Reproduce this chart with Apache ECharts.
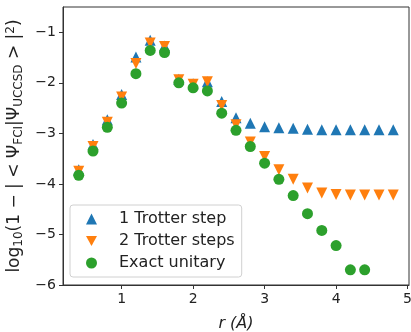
<!DOCTYPE html>
<html>
<head>
<meta charset="utf-8">
<script src="https://cdn.jsdelivr.net/npm/echarts@6/dist/echarts.min.js"></script>
<style>
  html, body { margin: 0; padding: 0; background: #fff; }
  #chart { width: 411px; height: 332px; }
</style>
</head>
<body>
<div id="chart"></div>
<script>
const rValues = [0.4, 0.6, 0.8, 1.0, 1.2, 1.4, 1.6, 1.8, 2.0, 2.2, 2.4, 2.6, 2.8, 3.0, 3.2, 3.4, 3.6, 3.8, 4.0, 4.2, 4.4, 4.6, 4.8];

const oneStep = [-3.72, -3.22, -2.73, -2.23, -1.49, -1.16, -1.27, -1.93, -2.02, -1.98, -2.37, -2.69, -2.80, -2.87, -2.89, -2.90, -2.92, -2.93, -2.93, -2.93, -2.93, -2.93, -2.93];
const twoSteps = [-3.75, -3.26, -2.78, -2.28, -1.62, -1.21, -1.28, -1.94, -2.03, -1.98, -2.45, -2.83, -3.17, -3.46, -3.72, -3.91, -4.08, -4.18, -4.21, -4.22, -4.22, -4.22, -4.22];
const exactR = [0.4, 0.6, 0.8, 1.0, 1.2, 1.4, 1.6, 1.8, 2.0, 2.2, 2.4, 2.6, 2.8, 3.0, 3.2, 3.4, 3.6, 3.8, 4.0, 4.2, 4.4];
const exact = [-3.83, -3.35, -2.88, -2.40, -1.82, -1.36, -1.40, -2.00, -2.10, -2.16, -2.60, -2.94, -3.26, -3.59, -3.91, -4.23, -4.59, -4.92, -5.22, -5.70, -5.70];

const xTicks = [1, 2, 3, 4, 5];
const yTicks = [-6, -5, -4, -3, -2, -1];

const seriesNames = ['1 Trotter step', '2 Trotter steps', 'Exact unitary'];

function pairs(xs, ys) {
  return xs.map((x, i) => [x, ys[i]]);
}

const font = 'DejaVu Sans';
const downTriangle = 'path://M0,0 L10,0 L5,9 Z';

const chart = echarts.init(document.getElementById('chart'));
chart.setOption({
  animation: false,
  textStyle: { fontFamily: font },
  grid: {
    left: 63,
    right: 2,
    top: 7,
    bottom: 47,
    outerBoundsMode: 'none',
    show: true,
    borderColor: '#333',
    borderWidth: 1,
  },
  legend: {
    orient: 'vertical',
    left: 70,
    top: 205,
    padding: [6, 7, 6, 16],
    itemWidth: 11,
    itemHeight: 11,
    itemGap: 6,
    borderColor: '#d0d0d0',
    borderWidth: 1,
    borderRadius: 3,
    backgroundColor: 'rgba(255,255,255,0.8)',
    textStyle: { fontFamily: font, fontSize: 16, color: '#222', lineHeight: 16, padding: [0, 0, 0, 17] },
    data: [
      { name: seriesNames[0], icon: 'triangle' },
      { name: seriesNames[1], icon: downTriangle },
      { name: seriesNames[2], icon: 'circle' },
    ],
  },
  xAxis: {
    type: 'value',
    min: 0.18,
    max: 5.02,
    name: 'r (Å)',
    nameLocation: 'middle',
    nameGap: 31,
    nameTextStyle: { fontFamily: font, fontSize: 16, fontStyle: 'italic', color: '#222' },
    axisLine: { lineStyle: { color: '#333' } },
    axisTick: { show: true, length: 4, inside: false, customValues: xTicks, lineStyle: { color: '#333' } },
    axisLabel: { customValues: xTicks, fontSize: 14, color: '#222', margin: 7 },
    splitLine: { show: false },
  },
  yAxis: {
    type: 'value',
    min: -6,
    max: -0.5,
    name: '{a|log}{s|10}{a|(1 − | < Ψ}{s|FCI}{a||Ψ}{s|UCCSD}{a| > |}{p|2}{a|)}',
    nameLocation: 'middle',
    nameRotate: 90,
    nameGap: 20,
    nameTextStyle: {
      rich: {
        a: { fontFamily: font, fontSize: 17, color: '#222', lineHeight: 20, verticalAlign: 'middle' },
        s: { fontFamily: font, fontSize: 12, color: '#222', lineHeight: 20, verticalAlign: 'bottom', padding: [6, 0, 0, 0] },
        p: { fontFamily: font, fontSize: 12, color: '#222', lineHeight: 20, verticalAlign: 'top', padding: [0, 0, 6, 0] },
      },
    },
    axisLine: { show: true, lineStyle: { color: '#333' } },
    axisTick: { show: true, length: 4, inside: false, customValues: yTicks, lineStyle: { color: '#333' } },
    axisLabel: {
      customValues: yTicks,
      fontSize: 14,
      color: '#222',
      margin: 7,
      formatter: (v) => String(v).replace('-', '−'),
    },
    splitLine: { show: false },
  },
  series: [
    {
      name: seriesNames[0],
      type: 'scatter',
      symbol: 'triangle',
      symbolSize: 11,
      itemStyle: { color: '#1f77b4', opacity: 1 },
      data: pairs(rValues, oneStep),
    },
    {
      name: seriesNames[1],
      type: 'scatter',
      symbol: downTriangle,
      symbolSize: 11,
      itemStyle: { color: '#ff7f0e', opacity: 1 },
      data: pairs(rValues, twoSteps),
    },
    {
      name: seriesNames[2],
      type: 'scatter',
      symbol: 'circle',
      symbolSize: 11,
      itemStyle: { color: '#2ca02c', opacity: 1 },
      data: pairs(exactR, exact),
    },
  ],
});
</script>
</body>
</html>
